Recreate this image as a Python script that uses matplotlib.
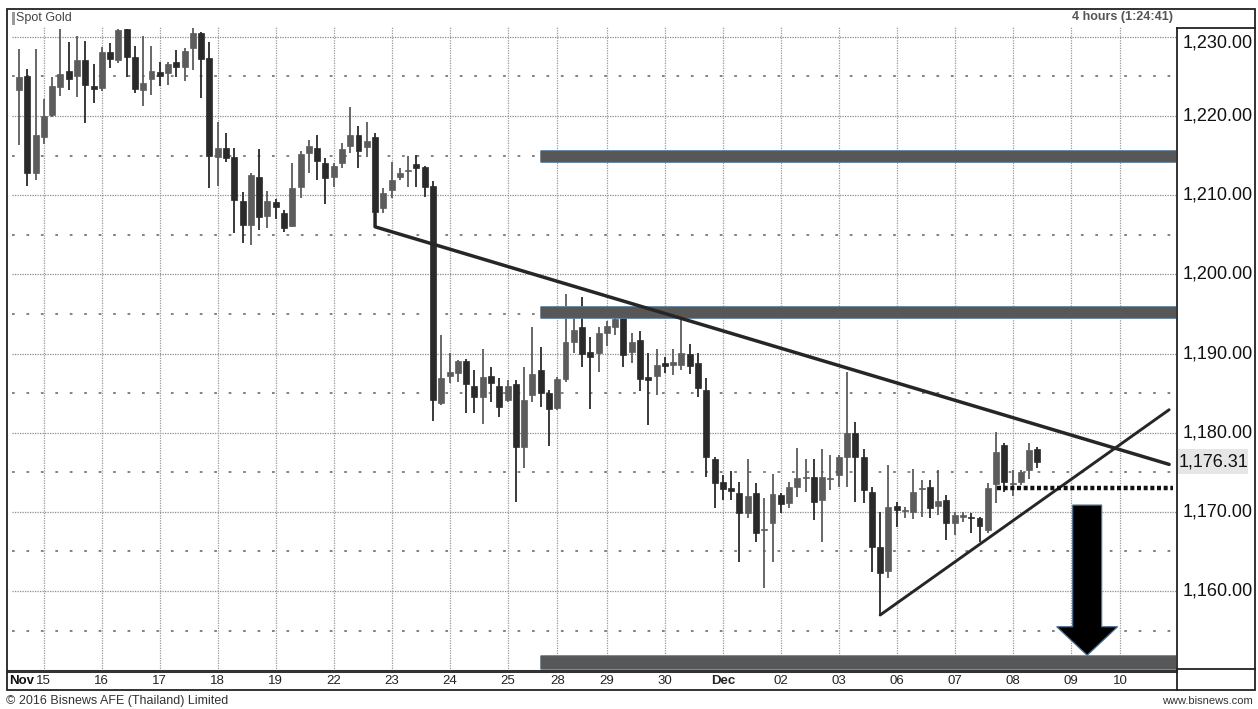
import matplotlib
matplotlib.use("Agg")
import matplotlib.pyplot as plt
import matplotlib.patheffects as pe
import matplotlib.transforms as mtransforms
from matplotlib import font_manager
from matplotlib.patches import Rectangle
from matplotlib.lines import Line2D

names = {f.name for f in font_manager.fontManager.ttflist}
NARROW = "Liberation Sans Narrow" if "Liberation Sans Narrow" in names else "Liberation Sans"
SANS = "Liberation Sans"

# 4-hour candles, Spot Gold, Nov 14 - Dec 08 2016
opens = [1223.27, 1225.03, 1212.74, 1217.37, 1220.11, 1223.69, 1225.67, 1225.03, 1227.05, 1223.77,
         1223.48, 1228.02, 1227.05, 1230.97, 1227.39, 1223.27, 1224.70, 1225.50, 1225.46, 1226.84,
         1226.21, 1228.53, 1230.51, 1227.26, 1214.85, 1215.99, 1214.85, 1209.29, 1206.22, 1212.32,
         1207.36, 1209.17, 1207.78, 1206.10, 1211.06, 1215.35, 1215.90, 1214.09, 1212.32, 1214.01,
         1216.20, 1217.58, 1216.11, 1217.29, 1208.33, 1210.64, 1212.32, 1213.08, 1213.92, 1213.59,
         1211.10, 1183.71, 1187.16, 1187.50, 1189.10, 1185.94, 1184.55, 1187.16, 1185.90, 1184.13,
         1186.11, 1178.24, 1184.76, 1187.92, 1184.97, 1183.08, 1186.74, 1191.50, 1193.39, 1190.24,
         1190.03, 1192.63, 1193.31, 1194.65, 1190.24, 1191.71, 1187.08, 1187.16, 1188.85, 1188.55,
         1188.55, 1189.90, 1188.76, 1185.39, 1176.64, 1173.73, 1172.98, 1172.43, 1169.82, 1172.43,
         1167.72, 1168.56, 1172.13, 1171.08, 1173.19, 1174.28, 1174.37, 1171.50, 1174.15, 1174.66,
         1176.97, 1179.92, 1176.89, 1172.56, 1165.53, 1162.58, 1170.79, 1170.12, 1170.03, 1172.89,
         1173.19, 1170.75, 1171.50, 1168.64, 1169.40, 1169.40, 1169.27, 1167.71, 1173.52, 1178.45,
         1173.52, 1173.82, 1175.29, 1177.90]
highs = [1228.40, 1225.92, 1228.40, 1222.17, 1224.87, 1230.97, 1229.28, 1230.13, 1229.45, 1226.51,
         1228.70, 1229.16, 1230.97, 1230.97, 1228.86, 1230.13, 1228.82, 1226.76, 1226.84, 1228.32,
         1228.53, 1231.05, 1230.55, 1229.28, 1219.27, 1217.79, 1215.99, 1210.43, 1212.74, 1215.78,
         1210.56, 1209.46, 1208.12, 1214.01, 1215.56, 1216.95, 1217.58, 1214.64, 1214.01, 1216.53,
         1221.08, 1218.72, 1219.27, 1217.79, 1210.85, 1214.22, 1213.38, 1214.93, 1215.06, 1213.71,
         1211.80, 1192.34, 1190.03, 1189.18, 1189.27, 1187.92, 1190.53, 1188.34, 1186.87, 1186.66,
         1186.66, 1188.34, 1193.31, 1190.87, 1185.39, 1187.08, 1197.52, 1194.44, 1197.18, 1192.13,
         1193.31, 1194.11, 1194.65, 1195.50, 1192.55, 1192.89, 1190.03, 1190.53, 1189.52, 1190.53,
         1194.23, 1191.20, 1190.03, 1186.87, 1176.89, 1174.66, 1175.21, 1173.82, 1176.68, 1173.61,
         1171.71, 1174.74, 1172.34, 1173.82, 1178.03, 1176.68, 1176.68, 1177.94, 1177.19, 1177.19,
         1187.71, 1181.39, 1177.90, 1173.19, 1170.03, 1175.92, 1171.29, 1170.66, 1175.38, 1174.03,
         1174.03, 1175.29, 1172.13, 1170.03, 1170.03, 1169.82, 1169.40, 1173.61, 1180.13, 1178.66,
         1175.29, 1175.29, 1178.66, 1178.24]
lows = [1216.32, 1211.15, 1211.90, 1216.45, 1219.82, 1222.55, 1223.27, 1222.42, 1219.06, 1221.58,
        1223.18, 1226.00, 1226.63, 1224.95, 1222.93, 1221.25, 1222.64, 1223.77, 1223.90, 1224.87,
        1224.44, 1225.79, 1222.21, 1210.85, 1211.15, 1214.13, 1205.17, 1203.90, 1203.70, 1205.59,
        1205.80, 1206.98, 1205.38, 1206.01, 1209.59, 1212.83, 1211.90, 1208.87, 1211.06, 1213.38,
        1215.27, 1213.38, 1214.85, 1207.69, 1207.69, 1209.59, 1211.90, 1211.06, 1211.06, 1209.80,
        1181.50, 1183.50, 1186.24, 1186.45, 1182.53, 1182.53, 1181.10, 1183.92, 1181.94, 1183.92,
        1171.30, 1175.50, 1183.92, 1183.29, 1178.32, 1182.87, 1186.45, 1190.11, 1188.34, 1182.95,
        1187.71, 1190.95, 1192.34, 1188.34, 1188.76, 1185.31, 1180.98, 1184.76, 1187.50, 1187.29,
        1187.92, 1187.42, 1184.55, 1174.45, 1170.45, 1171.50, 1171.50, 1163.63, 1169.19, 1166.24,
        1160.35, 1163.72, 1169.82, 1170.45, 1171.84, 1172.56, 1168.98, 1166.24, 1172.77, 1173.19,
        1173.19, 1171.29, 1171.08, 1162.45, 1156.98, 1161.61, 1168.14, 1169.19, 1169.06, 1169.31,
        1169.19, 1169.61, 1166.45, 1167.08, 1168.77, 1167.29, 1166.24, 1167.29, 1171.08, 1172.56,
        1172.01, 1173.40, 1174.11, 1175.50]
closes = [1224.95, 1212.74, 1217.58, 1219.98, 1223.77, 1225.29, 1224.61, 1227.05, 1223.86, 1223.35,
          1228.02, 1227.22, 1230.84, 1227.39, 1223.35, 1224.19, 1225.71, 1225.08, 1226.59, 1226.21,
          1228.23, 1230.42, 1227.18, 1214.93, 1215.99, 1214.64, 1209.38, 1206.22, 1212.53, 1207.27,
          1209.25, 1208.54, 1205.80, 1210.93, 1215.14, 1216.20, 1214.34, 1212.11, 1213.67, 1215.82,
          1217.58, 1215.61, 1216.87, 1207.90, 1210.22, 1211.90, 1212.74, 1213.16, 1213.38, 1211.06,
          1184.10, 1186.95, 1187.71, 1189.10, 1186.15, 1184.55, 1187.08, 1186.24, 1183.29, 1185.94,
          1178.24, 1184.13, 1187.42, 1184.97, 1183.00, 1186.74, 1191.50, 1192.97, 1189.94, 1189.52,
          1192.55, 1193.48, 1194.36, 1189.81, 1191.50, 1186.74, 1186.66, 1188.51, 1188.47, 1188.97,
          1190.11, 1188.47, 1185.61, 1176.89, 1173.61, 1172.85, 1172.68, 1169.82, 1172.01, 1167.38,
          1167.88, 1172.26, 1171.00, 1173.19, 1174.24, 1174.45, 1171.29, 1174.37, 1174.32, 1176.97,
          1179.92, 1176.97, 1172.77, 1165.53, 1162.24, 1170.66, 1170.24, 1170.20, 1172.56, 1173.06,
          1170.45, 1171.42, 1168.56, 1169.61, 1169.57, 1169.23, 1168.22, 1172.98, 1177.61, 1173.82,
          1173.69, 1175.08, 1177.82, 1176.31]

day_ticks = [3, 10, 17, 24, 31, 38, 45, 52, 59, 65, 71, 78, 85, 92, 99, 106, 113, 120, 127, 133]
day_labels = ["15", "16", "17", "18", "19", "22", "23", "24", "25", "28", "29", "30",
              "Dec", "02", "03", "06", "07", "08", "09", "10"]
price_ticks = [1160, 1170, 1180, 1190, 1200, 1210, 1220, 1230]
half_ticks = [1155, 1165, 1175, 1185, 1195, 1205, 1215, 1225]
last_price = 1176.31

# drawn annotations
band_levels = [1215.0, 1195.3, 1151.0]
band_start = 62.9
down_x = [43, 43, 138.9]
down_y = [1207.7, 1206.0, 1176.0]
up_x = [104, 138.9]
up_y = [1156.98, 1182.9]
dotted_level = 1172.98
dotted_x = [118.1, 139.4]
arrow_x, arrow_top, arrow_neck, arrow_tip = 129.0, 1170.86, 1155.5, 1151.9
shaft_half, head_half = 1.75, 3.68

W, H = 1258, 709
fig = plt.figure(figsize=(W / 100, H / 100), dpi=100)
fig.patch.set_facecolor("white")


def fx(px):
    return px / W


def fy(py):
    return 1 - py / H


X0, X1 = -1.33, 139.73
Y0, Y1 = 1149.91, 1233.5
ax = fig.add_axes([fx(8), fy(671), fx(1176) - fx(8), fy(9) - fy(671)])
ax.set_xlim(X0, X1)
ax.set_ylim(Y0, Y1)
ax.set_xticks([])
ax.set_yticks([])
for s in ["right", "top", "left"]:
    ax.spines[s].set_visible(False)
ax.spines["bottom"].set_linewidth(2.2)
ax.spines["bottom"].set_color("#333333")

# grid
ax.hlines(price_ticks, -0.85, X1, colors="#8c8c8c", linestyles=(0, (1, 1)), lw=0.9, zorder=1)
ax.hlines(half_ticks, -0.85, X1, colors="#7a7a7a", linestyles=(0, (1.5, 6.5)), lw=1.3, zorder=1)
ax.vlines(day_ticks, Y0, 1231.26, colors="#9a9a9a", linestyles=(0, (1, 1)), lw=0.9, zorder=1)

# candles
up_col, dn_col = "#5c5c5c", "#2a2a2a"
for i, (o, h, l, c) in enumerate(zip(opens, highs, lows, closes)):
    col = up_col if c >= o else dn_col
    ax.vlines(i, l, h, colors=col, lw=1.3, zorder=3)
    ax.bar(i, max(abs(c - o), 0.15), bottom=min(o, c), width=0.72,
           color=col, edgecolor=col, lw=0.5, zorder=3)

# support / resistance bands
for lvl, lw in zip(band_levels, [7.8, 7.8, 9.2]):
    ax.plot([band_start, X1], [lvl, lvl], color="#575757", lw=lw, solid_capstyle="butt", zorder=4,
            path_effects=[pe.Stroke(linewidth=lw + 1.4, foreground="#5a7d9c"), pe.Normal()])

# trend lines
ax.plot(down_x, down_y, color="#262626", lw=2.5, solid_capstyle="round", zorder=5)
ax.plot(up_x, up_y, color="#262626", lw=2.1, solid_capstyle="round", zorder=5)
ax.plot(dotted_x, [dotted_level, dotted_level], color="#111111", lw=3.2,
        dashes=(0.9, 0.6), dash_capstyle="butt", zorder=5)

# down arrow
axs = [arrow_x - shaft_half, arrow_x + shaft_half, arrow_x + shaft_half, arrow_x + head_half,
       arrow_x, arrow_x - head_half, arrow_x - shaft_half]
ays = [arrow_top, arrow_top, arrow_neck, arrow_neck, arrow_tip, arrow_neck, arrow_neck]
ax.fill(axs, ays, facecolor="black", edgecolor="#4d6f8f", lw=0.9, zorder=6)

# date labels under the plot
xt = ax.get_xaxis_transform()
for t, lab in zip(day_ticks, day_labels):
    ax.text(t, -0.0151, lab, transform=xt, ha="center", va="center", fontsize=9.5,
            family=NARROW, color="#222222", weight="bold" if lab == "Dec" else "normal",
            clip_on=False)
fig.text(fx(9), fy(681), "Nov", ha="left", va="center", fontsize=9.5, family=NARROW,
         weight="bold", color="#111111")

# price labels on the right
yt = ax.get_yaxis_transform()
lx = (1183 - 8) / 1168
for p in price_ticks:
    tr = yt if p != 1230 else mtransforms.offset_copy(yt, fig=fig, y=-6, units="dots")
    ax.text(lx, p, f"{p:,.2f}", transform=tr, ha="left", va="center", fontsize=13,
            family=SANS, color="#111111", clip_on=False)
ax.add_patch(Rectangle(((1178 - 8) / 1168, last_price - 1.58), 70 / 1168, 3.16,
                       transform=yt, facecolor="#e6e6e6", edgecolor="none", clip_on=False, zorder=2))
ax.text((1179 - 8) / 1168, last_price, f"{last_price:,.2f}", transform=yt, ha="left",
        va="center", fontsize=13, family=SANS, color="#111111", clip_on=False, zorder=3)

# frames
fig.add_artist(Rectangle((fx(7), fy(690)), fx(1255) - fx(7), fy(9) - fy(690),
                         fill=False, ec="#222222", lw=1.3))
fig.add_artist(Line2D([fx(1176.5), fx(1176.5)], [fy(28), fy(690)], color="#222222", lw=1.3))
fig.add_artist(Line2D([fx(1176.5), fx(1255)], [fy(28), fy(28)], color="#222222", lw=1.3))
fig.add_artist(Line2D([fx(1176.5), fx(1255)], [fy(669), fy(669)], color="#222222", lw=1.3))

# header and footer texts
fig.add_artist(Rectangle((fx(12), fy(25)), fx(3), fy(12) - fy(25), facecolor="#9a9a9a",
                         edgecolor="none"))
fig.text(fx(16), fy(18.5), "Spot Gold", ha="left", va="center", fontsize=9,
         family=NARROW, color="#444444")
fig.text(fx(1173), fy(17), "4 hours (1:24:41)", ha="right", va="center", fontsize=9,
         family=NARROW, weight="bold", color="#555555")
fig.text(fx(6), fy(701), "\u00a9 2016 Bisnews AFE (Thailand) Limited", ha="left", va="center",
         fontsize=9, family=NARROW, color="#333333")
fig.text(fx(1253), fy(701), "www.bisnews.com", ha="right", va="center", fontsize=8,
         family=SANS, color="#333333")

fig.savefig("out.png", dpi=100)
